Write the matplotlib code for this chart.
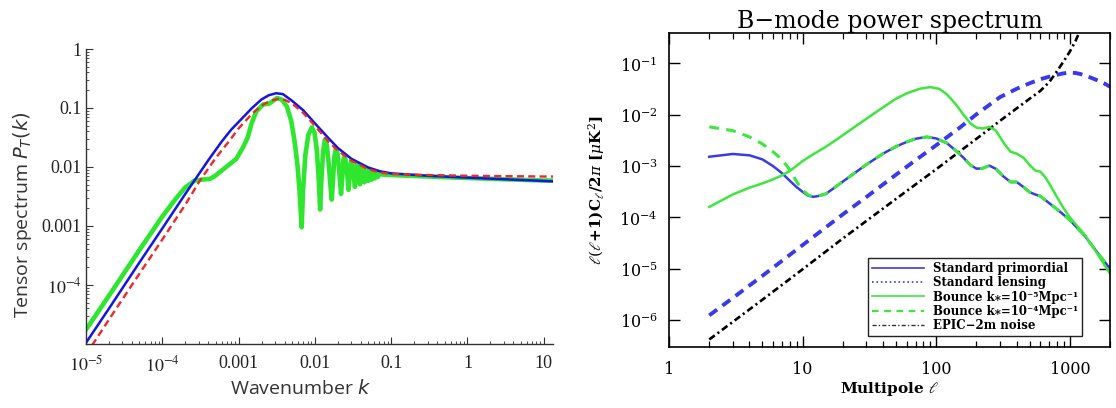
import matplotlib
matplotlib.use("Agg")
import matplotlib.pyplot as plt
from matplotlib.lines import Line2D
from matplotlib.ticker import LogLocator, NullFormatter, NullLocator

plt.rcParams['mathtext.fontset'] = 'stix'

# ---- left panel: tensor spectrum P_T(k) ----
k_std = [1e-5, 2e-5, 5e-5, 1e-4, 2e-4, 4e-4, 6e-4, 8e-4, 1e-3, 1.5e-3, 2e-3, 2.5e-3,
         3.1e-3, 3.8e-3, 5e-3, 7e-3, 1e-2, 1.5e-2, 2e-2, 3e-2, 5e-2, 7e-2, 0.1, 0.3,
         1, 3, 10, 13.2]
p_std = [1.05e-5, 4.0e-5, 2.4e-4, 9.1e-4, 3.5e-3, 1.3e-2, 2.7e-2, 4.3e-2, 5.8e-2, 0.1,
         0.14, 0.165, 0.178, 0.172, 0.133, 0.092, 0.055, 0.031, 0.021, 0.0138, 0.0098,
         0.0085, 0.0078, 0.0071, 0.0066, 0.0062, 0.0058, 0.0057]

k_alt = [1.2e-5, 2e-5, 5e-5, 1e-4, 2e-4, 3.1e-4, 5e-4, 7.6e-4, 1e-3, 1.5e-3, 2e-3,
         2.6e-3, 3.3e-3, 4e-3, 5e-3, 7e-3, 1e-2, 1.5e-2, 2e-2, 3e-2, 5e-2, 7e-2, 0.1,
         0.3, 1, 3, 10, 13.2]
p_alt = [9.5e-6, 2.6e-5, 1.55e-4, 5.9e-4, 2.3e-3, 5.85e-3, 1.42e-2, 2.8e-2, 4.5e-2, 0.08,
         0.11, 0.133, 0.142, 0.138, 0.12, 0.083, 0.05, 0.027, 0.019, 0.0128, 0.0092,
         0.0081, 0.0076, 0.0073, 0.0071, 0.0070, 0.0069, 0.0069]

k_bounce = [1e-5, 2e-5, 5e-5, 1e-4, 1.5e-4, 2e-4, 2.66e-4, 3.3e-4,
            4.2e-4, 4.8e-4, 5.6e-4, 7.2e-4, 9.3e-4, 1.14e-3, 1.32e-3, 1.48e-3, 1.7e-3,
            2.1e-3, 2.5e-3, 2.9e-3, 3.2e-3, 3.7e-3, 4.3e-3, 4.9e-3, 5.4e-3, 5.9e-3,
            6.3e-3, 6.7e-3, 7.0e-3, 7.5e-3, 8.2e-3, 9.1e-3, 9.9e-3, 1.06e-2, 1.12e-2,
            1.17e-2, 1.22e-2, 1.28e-2, 1.35e-2, 1.43e-2, 1.52e-2, 1.60e-2, 1.66e-2,
            1.72e-2, 1.80e-2, 1.89e-2, 1.98e-2, 2.1e-2, 2.2e-2, 2.28e-2, 2.36e-2,
            2.45e-2, 2.56e-2, 2.68e-2, 2.76e-2, 2.86e-2, 3.0e-2, 3.12e-2, 3.25e-2,
            3.35e-2, 3.47e-2, 3.6e-2, 3.75e-2, 3.9e-2, 4.05e-2, 4.15e-2, 4.3e-2,
            4.45e-2, 4.6e-2, 4.75e-2, 4.9e-2, 5.0e-2, 5.15e-2, 5.3e-2, 5.45e-2,
            5.55e-2, 5.7e-2, 5.85e-2, 6.0e-2, 6.1e-2, 6.3e-2, 6.5e-2, 6.7e-2, 7.0e-2,
            8.0e-2, 0.1, 0.3, 1, 3, 10, 13.2]
p_bounce = [1.75e-5, 6.6e-5, 3.9e-4, 1.45e-3, 2.9e-3, 4.5e-3, 5.9e-3,
            6.1e-3, 6.3e-3, 6.9e-3, 8.1e-3, 1.05e-2, 1.37e-2, 2.14e-2, 3.2e-2, 5.5e-2,
            8.7e-2, 0.115, 0.118, 0.135, 0.148, 0.138, 0.105, 0.06, 0.028, 0.011,
            0.0038, 0.00095, 0.0042, 0.016, 0.035, 0.047, 0.038, 0.019, 0.0065,
            0.0019, 0.0065, 0.018, 0.029, 0.024, 0.011, 0.0048, 0.0028,
            0.0055, 0.015, 0.021, 0.017, 0.0075, 0.0035, 0.0065, 0.013,
            0.016, 0.012, 0.0065, 0.0041, 0.0075, 0.013, 0.0105, 0.0065,
            0.0046, 0.0075, 0.0115, 0.009, 0.0051, 0.0078, 0.0105, 0.0083,
            0.0055, 0.0077, 0.0097, 0.0080, 0.0058, 0.0077, 0.0092, 0.0078,
            0.0061, 0.0076, 0.0088, 0.0077, 0.0064, 0.0078, 0.0085, 0.0068, 0.0076,
            0.0074, 0.0073, 0.0069, 0.0065, 0.0062, 0.0059, 0.0059]

k_ticks = [1e-5, 1e-4, 1e-3, 1e-2, 0.1, 1, 10]
k_labels = [r'$10^{-5}$', r'$10^{-4}$', '0.001', '0.01', '0.1', '1', '10']
p_ticks = [1e-4, 1e-3, 1e-2, 0.1, 1]
p_labels = [r'$10^{-4}$', '0.001', '0.01', '0.1', '1']

# ---- right panel: B-mode power spectrum ----
ell_prim = [2, 3, 4, 5, 6, 7, 8, 9, 10, 11, 12, 13, 15, 20, 30, 40, 50, 60, 70, 85, 100,
            120, 140, 160, 180, 200, 220, 250, 280, 320, 360, 400, 450, 500, 550, 600,
            700, 800, 1000, 1300, 1600, 2000]
cl_prim = [1.52e-3, 1.72e-3, 1.62e-3, 1.35e-3, 1.0e-3, 7.3e-4, 5.2e-4, 3.9e-4, 3.15e-4,
           2.65e-4, 2.52e-4, 2.6e-4, 2.9e-4, 5.0e-4, 1.07e-3, 1.75e-3, 2.4e-3, 2.95e-3,
           3.4e-3, 3.7e-3, 3.45e-3, 2.8e-3, 2.0e-3, 1.45e-3, 1.05e-3, 8.9e-4, 9.0e-4,
           1.02e-3, 8.8e-4, 6.2e-4, 4.9e-4, 4.9e-4, 3.9e-4, 3.1e-4, 2.8e-4, 2.6e-4,
           1.9e-4, 1.45e-4, 8.9e-5, 4.3e-5, 2.1e-5, 1.0e-5]

ell_lens = [2, 3, 5, 10, 20, 30, 50, 70, 100, 150, 200, 300, 400, 500, 600, 700, 800,
            900, 1000, 1100, 1200, 1400, 1600, 1800, 2000]
cl_lens = [1.24e-6, 2.7e-6, 7.3e-6, 2.9e-5, 1.15e-4, 2.5e-4, 6.8e-4, 1.3e-3, 2.55e-3,
           5.6e-3, 0.0102, 0.022, 0.032, 0.041, 0.049, 0.055, 0.060, 0.064, 0.066,
           0.065, 0.062, 0.054, 0.047, 0.041, 0.035]

ell_b5 = [2, 3, 4, 5, 6, 7, 8, 10, 12, 15, 18, 25, 35, 50, 60, 75, 90, 105, 120, 140,
          160, 180, 200, 225, 250, 280, 320, 360, 400, 450, 500, 550, 600, 650, 700,
          800, 900, 1000, 1300, 1600, 2000]
cl_b5 = [1.6e-4, 2.8e-4, 3.8e-4, 4.6e-4, 5.5e-4, 6.6e-4, 8.0e-4, 1.25e-3, 1.7e-3,
         2.4e-3, 3.3e-3, 6.0e-3, 1.1e-2, 2.05e-2, 2.6e-2, 3.2e-2, 3.45e-2, 3.2e-2,
         2.5e-2, 1.6e-2, 1.0e-2, 6.8e-3, 5.6e-3, 5.4e-3, 5.8e-3, 4.9e-3, 2.8e-3,
         1.9e-3, 1.75e-3, 1.45e-3, 1.05e-3, 8.2e-4, 7.8e-4, 6.2e-4, 4.6e-4, 2.5e-4,
         1.5e-4, 1.0e-4, 4.5e-5, 2.0e-5, 8.0e-6]

ell_b4_low = [2, 3, 4, 5, 6, 7, 8, 9, 10, 11, 12]
cl_b4_low = [5.8e-3, 4.9e-3, 3.7e-3, 2.7e-3, 1.9e-3, 1.35e-3, 8.5e-4, 5.0e-4, 3.4e-4,
             2.75e-4, 2.52e-4]

ell_noise = [2, 5, 10, 20, 50, 100, 200, 300, 400, 500, 600, 700, 800, 900, 1000,
             1100, 1200]
cl_noise = [4.2e-7, 2.5e-6, 9.8e-6, 3.9e-5, 2.3e-4, 8.7e-4, 3.4e-3, 7.6e-3, 1.33e-2,
            2.05e-2, 2.9e-2, 4.3e-2, 7.0e-2, 0.11, 0.17, 0.27, 0.45]

ell_ticks = [1, 10, 100, 1000]
ell_labels = ['1', '10', '100', '1000']
cl_ticks = [1e-6, 1e-5, 1e-4, 1e-3, 1e-2, 1e-1]
cl_labels = [r'$10^{-6}$', r'$10^{-5}$', r'$10^{-4}$', r'$10^{-3}$', r'$10^{-2}$', r'$10^{-1}$']

legend_labels = ['Standard primordial', 'Standard lensing',
                 'Bounce k⁎=10⁻⁵Mpc⁻¹', 'Bounce k⁎=10⁻⁴Mpc⁻¹',
                 'EPIC−2m noise']

fig = plt.figure(figsize=(11.16, 4.08), dpi=100)

# left panel
ax1 = fig.add_axes([0.0771, 0.1569, 0.4184, 0.7230])
ax1.plot(k_bounce, p_bounce, color='#2ee62e', lw=3.3, solid_capstyle='round')
ax1.plot(k_std, p_std, color='#1414e6', lw=1.8)
ax1.plot(k_alt, p_alt, color='#f02828', lw=1.7, linestyle=(0, (3, 1.8)))
ax1.set_xscale('log')
ax1.set_yscale('log')
ax1.set_xlim(1e-5, 13.2)
ax1.set_ylim(1e-5, 1.0)
for s in ['top', 'right']:
    ax1.spines[s].set_visible(False)
for s in ['left', 'bottom']:
    ax1.spines[s].set_color('#333333')
    ax1.spines[s].set_linewidth(1.0)
ax1.set_xticks(k_ticks, k_labels)
ax1.set_yticks(p_ticks, p_labels)
ax1.xaxis.set_minor_locator(LogLocator(base=10, subs=range(2, 10), numticks=20))
ax1.yaxis.set_minor_locator(LogLocator(base=10, subs=range(2, 10), numticks=20))
ax1.xaxis.set_minor_formatter(NullFormatter())
ax1.yaxis.set_minor_formatter(NullFormatter())
ax1.tick_params(which='major', direction='in', length=5, width=0.8, color='#333333',
                labelsize=13, labelfontfamily='Liberation Serif', labelcolor='#222222')
ax1.tick_params(which='minor', direction='in', length=2.5, width=0.6, color='#333333')
ax1.tick_params(axis='x', pad=8)
ax1.tick_params(axis='y', pad=3)
ax1.set_xlabel(r'Wavenumber $k$', fontsize=14, family='Open Sans', color='#333333',
               math_fontfamily='dejavusans')
ax1.set_ylabel(r'Tensor spectrum $P_T(k)$', fontsize=14, family='Open Sans',
               color='#333333', math_fontfamily='dejavusans')
ax1.xaxis.set_label_coords(0.46, -0.12)
ax1.yaxis.set_label_coords(-0.112, 0.44)

# right panel
blue = '#3a3ae8'
green = '#3ee63e'
ax2 = fig.add_axes([0.5995, 0.1495, 0.3952, 0.7689])
ax2.plot(ell_prim, cl_prim, color=blue, lw=1.8)
ax2.plot(ell_lens, cl_lens, color=blue, lw=2.8, linestyle=(0, (2.5, 1.7)))
ax2.plot(ell_noise, cl_noise, color='black', lw=1.9, linestyle=(0, (2.6, 1.3, 0.8, 1.3)))
ax2.plot(ell_b5, cl_b5, color=green, lw=1.8)
ell_b4 = ell_b4_low + [e for e in ell_prim if e > 12]
cl_b4 = cl_b4_low + [c for e, c in zip(ell_prim, cl_prim) if e > 12]
ax2.plot(ell_b4, cl_b4, color=green, lw=2.2, linestyle=(0, (3.2, 2.4)))
ax2.set_xscale('log')
ax2.set_yscale('log')
ax2.set_xlim(1, 2000)
ax2.set_ylim(3.0e-7, 0.385)
for s in ax2.spines.values():
    s.set_linewidth(1.2)
ax2.set_xticks(ell_ticks, ell_labels)
ax2.set_yticks(cl_ticks, cl_labels)
ax2.xaxis.set_minor_locator(LogLocator(base=10, subs=range(2, 10), numticks=20))
ax2.xaxis.set_minor_formatter(NullFormatter())
ax2.yaxis.set_minor_locator(NullLocator())
ax2.tick_params(which='major', direction='in', length=8, width=1.0, top=True, right=True)
ax2.tick_params(which='minor', direction='in', length=4, width=0.9, top=True)
ax2.tick_params(axis='x', labelsize=11.5, pad=10, labelfontfamily='DejaVu Serif')
ax2.tick_params(axis='y', labelsize=11.5, pad=8)
for lab in ax2.get_yticklabels():
    lab.set_math_fontfamily('dejavuserif')
ax2.set_title('B−mode power spectrum', fontsize=17, family='DejaVu Serif', pad=2)
ax2.set_xlabel(r'Multipole $\ell$', fontsize=11, family='DejaVu Serif', weight='bold',
               math_fontfamily='dejavuserif')
ax2.set_ylabel(r'$\ell(\ell$+1)C$_\ell$/2$\pi$ [$\mu$K$^2$]', fontsize=11,
               family='DejaVu Serif', weight='bold', math_fontfamily='dejavuserif')
ax2.xaxis.set_label_coords(0.5, -0.105)
ax2.yaxis.set_label_coords(-0.14, 0.5)

handles = [Line2D([], [], color=blue, lw=1.2),
           Line2D([], [], color=blue, lw=1.2, linestyle=':'),
           Line2D([], [], color=green, lw=1.2),
           Line2D([], [], color=green, lw=1.6, linestyle=(0, (3, 2.5))),
           Line2D([], [], color='#333333', lw=1.0, linestyle=(0, (3, 1.5, 1, 1.5)))]
leg = ax2.legend(handles, legend_labels, loc='lower right', bbox_to_anchor=(0.936, 0.035),
                 borderaxespad=0, fancybox=False, framealpha=1, edgecolor='#222222',
                 prop={'family': ['DejaVu Serif', 'DejaVu Sans'], 'weight': 'bold',
                       'size': 8.5},
                 handlelength=4.4, handletextpad=0.7, labelspacing=0.1,
                 borderpad=0.35)
leg.get_frame().set_linewidth(1.0)

fig.savefig('out.png', dpi=100)
